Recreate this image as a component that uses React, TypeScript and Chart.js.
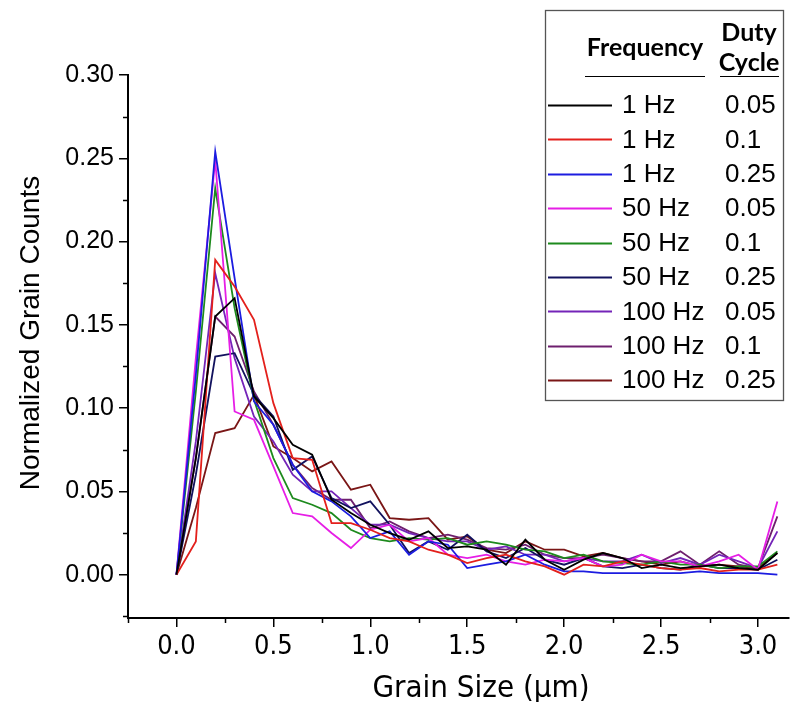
import { useEffect, useRef } from 'react';
import { Chart, registerables } from 'chart.js';

Chart.register(...registerables);

// ---- data ----
const grainSize = [0, 0.1, 0.2, 0.3, 0.4, 0.5, 0.6, 0.7, 0.8, 0.9, 1.0, 1.1, 1.2, 1.3, 1.4, 1.5, 1.6, 1.7, 1.8, 1.9, 2.0, 2.1, 2.2, 2.3, 2.4, 2.5, 2.6, 2.7, 2.8, 2.9, 3.0, 3.1];

const hz1_005 = [0, 0.07, 0.155, 0.166, 0.107, 0.094, 0.078, 0.072, 0.045, 0.037, 0.030, 0.025, 0.021, 0.026, 0.016, 0.017, 0.015, 0.006, 0.021, 0.009, 0.003, 0.009, 0.013, 0.010, 0.004, 0.006, 0.004, 0.005, 0.006, 0.004, 0.003, 0.013];
const hz1_01 = [0, 0.02, 0.189, 0.173, 0.153, 0.103, 0.070, 0.069, 0.031, 0.031, 0.027, 0.022, 0.020, 0.015, 0.012, 0.007, 0.010, 0.012, 0.008, 0.005, 0.000, 0.006, 0.005, 0.008, 0.006, 0.004, 0.003, 0.004, 0.002, 0.003, 0.003, 0.006];
const hz1_025 = [0, 0.12, 0.254, 0.178, 0.104, 0.090, 0.066, 0.050, 0.044, 0.035, 0.022, 0.026, 0.012, 0.020, 0.018, 0.004, 0.006, 0.008, 0.012, 0.006, 0.002, 0.002, 0.001, 0.001, 0.001, 0.001, 0.001, 0.002, 0.001, 0.001, 0.001, 0.000];
const hz50_005 = [0, 0.13, 0.249, 0.098, 0.093, 0.065, 0.037, 0.035, 0.025, 0.016, 0.027, 0.030, 0.020, 0.022, 0.012, 0.010, 0.012, 0.008, 0.006, 0.009, 0.008, 0.010, 0.005, 0.006, 0.012, 0.008, 0.008, 0.005, 0.008, 0.012, 0.003, 0.044];
const hz50_01 = [0, 0.11, 0.232, 0.160, 0.105, 0.070, 0.046, 0.042, 0.037, 0.027, 0.022, 0.020, 0.022, 0.021, 0.022, 0.018, 0.020, 0.018, 0.015, 0.014, 0.010, 0.012, 0.008, 0.007, 0.006, 0.008, 0.006, 0.006, 0.004, 0.005, 0.005, 0.014];
const hz50_025 = [0, 0.06, 0.131, 0.133, 0.108, 0.095, 0.063, 0.071, 0.046, 0.040, 0.044, 0.030, 0.013, 0.020, 0.015, 0.024, 0.014, 0.010, 0.016, 0.009, 0.006, 0.010, 0.005, 0.004, 0.006, 0.004, 0.003, 0.006, 0.004, 0.004, 0.003, 0.009];
const hz100_005 = [0, 0.08, 0.181, 0.130, 0.095, 0.080, 0.060, 0.050, 0.050, 0.040, 0.030, 0.030, 0.025, 0.022, 0.020, 0.020, 0.015, 0.017, 0.012, 0.012, 0.008, 0.010, 0.008, 0.008, 0.012, 0.007, 0.010, 0.006, 0.012, 0.008, 0.004, 0.026];
const hz100_01 = [0, 0.07, 0.155, 0.143, 0.110, 0.090, 0.066, 0.052, 0.045, 0.045, 0.028, 0.032, 0.026, 0.022, 0.024, 0.021, 0.016, 0.015, 0.018, 0.012, 0.010, 0.010, 0.012, 0.010, 0.008, 0.008, 0.014, 0.006, 0.014, 0.006, 0.004, 0.035];
const hz100_025 = [0, 0.04, 0.085, 0.088, 0.108, 0.077, 0.070, 0.062, 0.068, 0.051, 0.054, 0.034, 0.033, 0.034, 0.021, 0.023, 0.015, 0.013, 0.020, 0.015, 0.015, 0.011, 0.013, 0.010, 0.008, 0.006, 0.008, 0.005, 0.006, 0.005, 0.004, 0.013];

const frequencies = ['1 Hz', '1 Hz', '1 Hz', '50 Hz', '50 Hz', '50 Hz', '100 Hz', '100 Hz', '100 Hz'];
const dutyCycles = ['0.05', '0.1', '0.25', '0.05', '0.1', '0.25', '0.05', '0.1', '0.25'];
const seriesValues = [hz1_005, hz1_01, hz1_025, hz50_005, hz50_01, hz50_025, hz100_005, hz100_01, hz100_025];
const seriesColors = ['#000000', '#e3201c', '#1c1ce0', '#e61ee6', '#1d8a1d', '#12125e', '#7424b8', '#6e1f6e', '#7a1616'];

const xTickValues = [0, 0.5, 1.0, 1.5, 2.0, 2.5, 3.0];
const xTickLabels = ['0.0', '0.5', '1.0', '1.5', '2.0', '2.5', '3.0'];
const yTickValues = [0, 0.05, 0.10, 0.15, 0.20, 0.25, 0.30];
const yTickLabels = ['0.00', '0.05', '0.10', '0.15', '0.20', '0.25', '0.30'];
const xMinorTicks = [-0.25, 0.25, 0.75, 1.25, 1.75, 2.25, 2.75];
const yMinorTicks = [-0.025, 0.025, 0.075, 0.125, 0.175, 0.225, 0.275];

const xTitle = 'Grain Size (μm)';
const yTitle = 'Normalized Grain Counts';
const legendHeadFreq = 'Frequency';
const legendHeadDuty = ['Duty', 'Cycle'];

const SANS = "'Liberation Sans', Arial, sans-serif";
const NARROW = "'Liberation Sans Narrow', 'Arial Narrow', 'DejaVu Sans Condensed', 'Liberation Sans', sans-serif";

const axisDecorPlugin = {
  id: 'axisDecor',
  afterDraw(chart: any) {
    const ctx = chart.ctx;
    const xs = chart.scales.x;
    const ys = chart.scales.y;
    ctx.save();
    // minor ticks
    ctx.strokeStyle = '#000';
    ctx.lineWidth = 1.5;
    ctx.beginPath();
    for (const v of xMinorTicks) {
      const px = Math.round(xs.getPixelForValue(v)) + 0.5;
      ctx.moveTo(px, xs.top);
      ctx.lineTo(px, xs.top + 5);
    }
    for (const v of yMinorTicks) {
      const py = Math.round(ys.getPixelForValue(v)) + 0.5;
      ctx.moveTo(ys.right, py);
      ctx.lineTo(ys.right - 5, py);
    }
    ctx.stroke();
    // axis titles
    ctx.fillStyle = '#000';
    ctx.textAlign = 'center';
    ctx.textBaseline = 'middle';
    ctx.font = `31px ${NARROW}`;
    ctx.fillText(xTitle, 481, 689);
    ctx.translate(31, 333);
    ctx.rotate(-Math.PI / 2);
    ctx.font = `28px ${SANS}`;
    ctx.fillText(yTitle, 0, 0);
    ctx.restore();
  },
};

const legendPlugin = {
  id: 'boxLegend',
  afterDraw(chart: any) {
    const ctx = chart.ctx;
    ctx.save();
    const bx = 545, by = 10, bw = 238, bh = 390;
    ctx.fillStyle = '#fff';
    ctx.fillRect(bx, by, bw, bh);
    ctx.strokeStyle = '#555';
    ctx.lineWidth = 1.3;
    ctx.strokeRect(bx + 0.5, by + 0.5, bw, bh);

    ctx.fillStyle = '#000';
    ctx.textBaseline = 'middle';
    ctx.textAlign = 'center';
    ctx.font = "bold 25px Lato, 'Open Sans', sans-serif";
    ctx.fillText(legendHeadFreq, 645, 48);
    ctx.fillText(legendHeadDuty[0], 749, 33);
    ctx.fillText(legendHeadDuty[1], 749, 63);
    ctx.strokeStyle = '#000';
    ctx.lineWidth = 1.2;
    ctx.beginPath();
    ctx.moveTo(585, 76.5);
    ctx.lineTo(705, 76.5);
    ctx.moveTo(720, 76.5);
    ctx.lineTo(779, 76.5);
    ctx.stroke();

    ctx.textAlign = 'left';
    ctx.font = `26px ${SANS}`;
    const ds = chart.data.datasets;
    for (let i = 0; i < ds.length; i++) {
      const y = 105 + i * 34.4;
      ctx.strokeStyle = ds[i].borderColor;
      ctx.lineWidth = 2;
      ctx.beginPath();
      ctx.moveTo(548, Math.round(y) + 0.5);
      ctx.lineTo(612, Math.round(y) + 0.5);
      ctx.stroke();
      ctx.fillStyle = '#000';
      ctx.fillText(frequencies[i], 622, y + 1);
      ctx.fillText(dutyCycles[i], 725, y + 1);
    }
    ctx.restore();
  },
};

export default function App() {
  const canvasRef = useRef<HTMLCanvasElement | null>(null);

  useEffect(() => {
    const canvas = canvasRef.current;
    if (!canvas) return;
    const datasets = seriesValues.map((vals, i) => ({
      label: `${frequencies[i]} ${dutyCycles[i]}`,
      data: grainSize.map((x, j) => ({ x, y: vals[j] })),
      borderColor: seriesColors[i],
      backgroundColor: seriesColors[i],
      borderWidth: 1.8,
      pointRadius: 0,
      fill: false,
      tension: 0,
    }));

    const chart = new Chart(canvas, {
      type: 'line',
      data: { datasets },
      plugins: [axisDecorPlugin, legendPlugin],
      options: {
        responsive: false,
        animation: false,
        devicePixelRatio: 1,
        layout: { padding: { left: 0, top: 75, right: 2, bottom: 0 } },
        plugins: { legend: { display: false }, tooltip: { enabled: false } },
        scales: {
          x: {
            type: 'linear',
            min: -0.25,
            max: 3.16,
            afterBuildTicks: (s: any) => {
              s.ticks = xTickValues.map((v) => ({ value: v }));
            },
            afterFit: (s: any) => {
              s.height = 84;
            },
            ticks: {
              autoSkip: false,
              maxRotation: 0,
              color: '#000',
              padding: 4,
              font: { family: NARROW, size: 27 },
              callback: (_v: any, i: number) => xTickLabels[i],
            },
            grid: { drawOnChartArea: false, drawTicks: true, tickLength: 9, color: '#000', lineWidth: 1.5 },
            border: { display: true, color: '#000', width: 2 },
            title: { display: false },
          },
          y: {
            type: 'linear',
            min: -0.026,
            max: 0.3,
            afterBuildTicks: (s: any) => {
              s.ticks = yTickValues.map((v) => ({ value: v }));
            },
            afterFit: (s: any) => {
              s.width = 128;
            },
            ticks: {
              color: '#000',
              padding: 5,
              font: { family: SANS, size: 25 },
              callback: (_v: any, i: number) => yTickLabels[i],
            },
            grid: { drawOnChartArea: false, drawTicks: true, tickLength: 9, color: '#000', lineWidth: 1.5 },
            border: { display: true, color: '#000', width: 2 },
            title: { display: false },
          },
        },
      },
    } as any);
    return () => chart.destroy();
  }, []);

  return (
    <div style={{ position: 'fixed', left: 0, top: 0, width: 791, height: 702, background: '#fff' }}>
      <canvas ref={canvasRef} width={791} height={702} style={{ width: 791, height: 702, display: 'block' }} />
    </div>
  );
}
